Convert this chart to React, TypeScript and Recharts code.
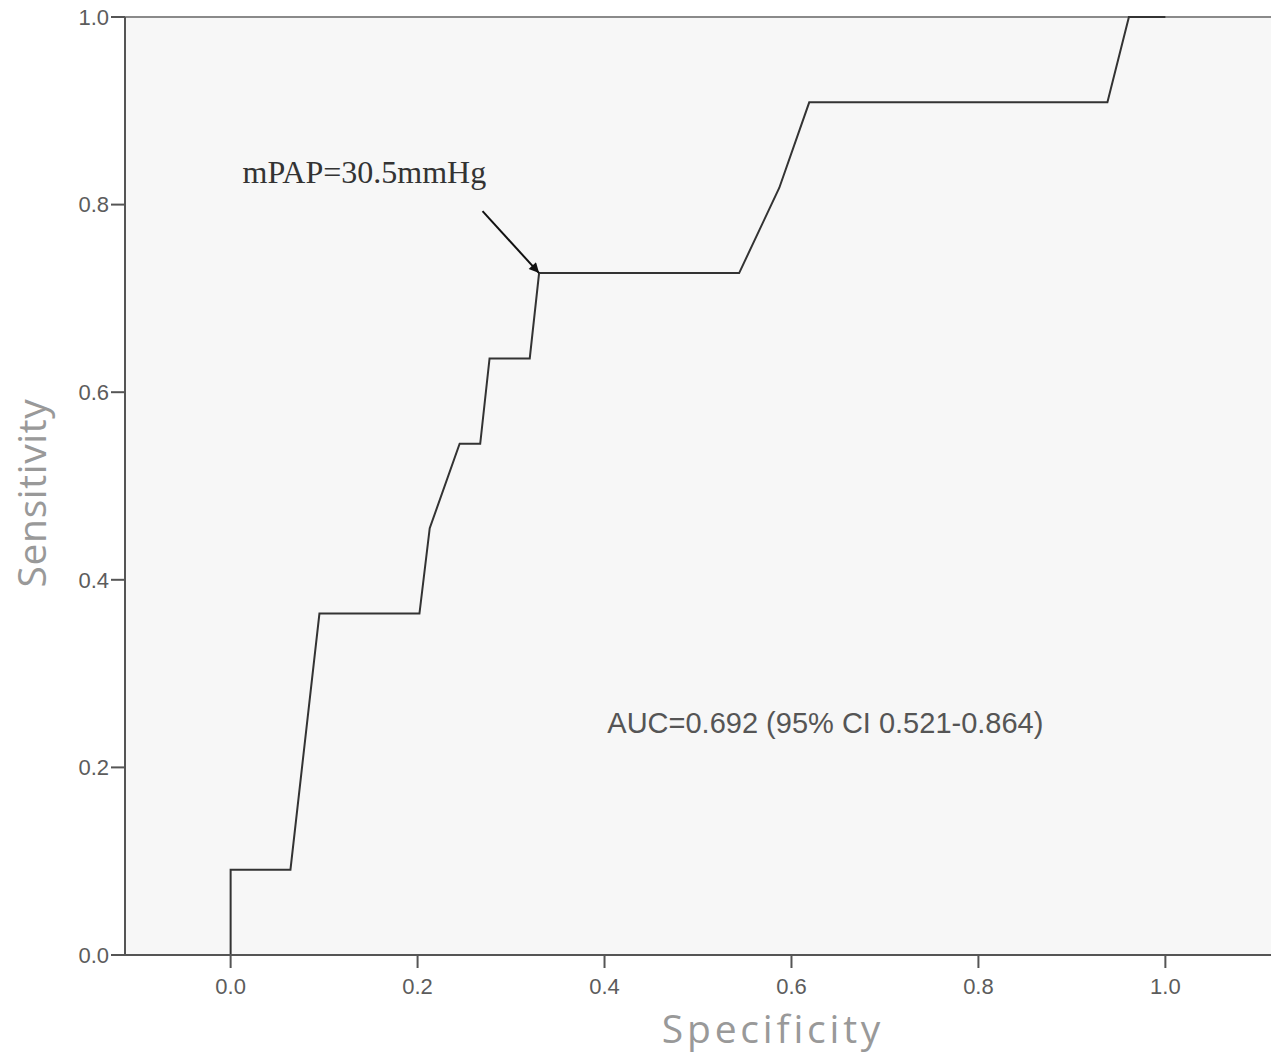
import { LineChart, Line, XAxis, YAxis, CartesianGrid, ReferenceLine, ReferenceDot, Label } from 'recharts';

// ROC curve points
const specificity = [0, 0, 0.064, 0.095, 0.202, 0.213, 0.245, 0.267, 0.277, 0.32, 0.33, 0.544, 0.587, 0.619, 0.938, 0.961, 1.0];
const sensitivity = [0, 0.091, 0.091, 0.364, 0.364, 0.455, 0.545, 0.545, 0.636, 0.636, 0.727, 0.727, 0.818, 0.909, 0.909, 1.0, 1.0];
const ticks = [0, 0.2, 0.4, 0.6, 0.8, 1.0];

const cutoffLabel = 'mPAP=30.5mmHg';
const aucLabel = 'AUC=0.692 (95% CI 0.521-0.864)';

const data = specificity.map((s, i) => ({ spec: s, sens: sensitivity[i] }));

const SANS = '"Liberation Sans", Arial, sans-serif';
const TITLE = '"Open Sans", sans-serif';

function ArrowShape(p: any) {
  return (
    <g>
      <defs>
        <marker id="arrowHead" viewBox="0 0 10 10" refX="10" refY="5" markerWidth="6" markerHeight="5" orient="auto">
          <path d="M0,0 L10,5 L0,10 z" fill="#111" />
        </marker>
      </defs>
      <line x1={p.x1} y1={p.y1} x2={p.x2} y2={p.y2} stroke="#111" strokeWidth={2} markerEnd="url(#arrowHead)" />
    </g>
  );
}

function textAt(text: string, style: any) {
  return ({ viewBox }: any) => (
    <text x={viewBox.x} y={viewBox.y} textAnchor="start" {...style}>
      {text}
    </text>
  );
}

export default function App() {
  return (
    <div style={{ position: 'absolute', left: 0, top: 0, background: '#fff' }}>
      <LineChart width={1272} height={1058} data={data} margin={{ top: 17, right: 1, bottom: 43, left: 0 }}>
        <CartesianGrid fill="#f7f7f7" horizontal={false} vertical={false} />
        <ReferenceLine y={1} stroke="#8a8a8a" strokeWidth={2} />
        <XAxis
          dataKey="spec"
          type="number"
          domain={[-0.113, 1.113]}
          ticks={ticks}
          allowDataOverflow
          tickFormatter={(v: number) => v.toFixed(1)}
          tickSize={13}
          tickMargin={10}
          height={60}
          stroke="#555"
          strokeWidth={2}
          tick={{ fill: '#5c5c5c', fontSize: 22, fontFamily: SANS }}
        >
          <Label
            content={() => (
              <text x={773} y={1043} textAnchor="middle" fill="#999" fontSize={39} fontFamily={TITLE} letterSpacing={3.8}>
                Specificity
              </text>
            )}
          />
        </XAxis>
        <YAxis
          type="number"
          domain={[0, 1]}
          ticks={ticks}
          tickFormatter={(v: number) => v.toFixed(1)}
          tickSize={14}
          tickMargin={2}
          width={125}
          stroke="#555"
          strokeWidth={2}
          tick={{ fill: '#5c5c5c', fontSize: 22, fontFamily: SANS }}
        >
          <Label
            content={() => (
              <text x={46} y={493} transform="rotate(-90 46 493)" textAnchor="middle" fill="#999" fontSize={39} fontFamily={TITLE} letterSpacing={0.6}>
                Sensitivity
              </text>
            )}
          />
        </YAxis>
        <Line
          type="linear"
          dataKey="sens"
          stroke="#333"
          strokeWidth={2}
          dot={false}
          isAnimationActive={false}
        />
        <ReferenceLine
          segment={[{ x: 0.2695, y: 0.793 }, { x: 0.33, y: 0.727 }]}
          shape={ArrowShape}
          ifOverflow="visible"
        />
        <ReferenceDot
          x={0.0128}
          y={0.823}
          r={0}
          stroke="none"
          label={textAt(cutoffLabel, { fill: '#333', fontSize: 32, fontFamily: '"Liberation Serif", "Times New Roman", serif' })}
        />
        <ReferenceDot
          x={0.403}
          y={0.2367}
          r={0}
          stroke="none"
          label={textAt(aucLabel, { fill: '#555', fontSize: 29, fontFamily: SANS })}
        />
      </LineChart>
    </div>
  );
}
